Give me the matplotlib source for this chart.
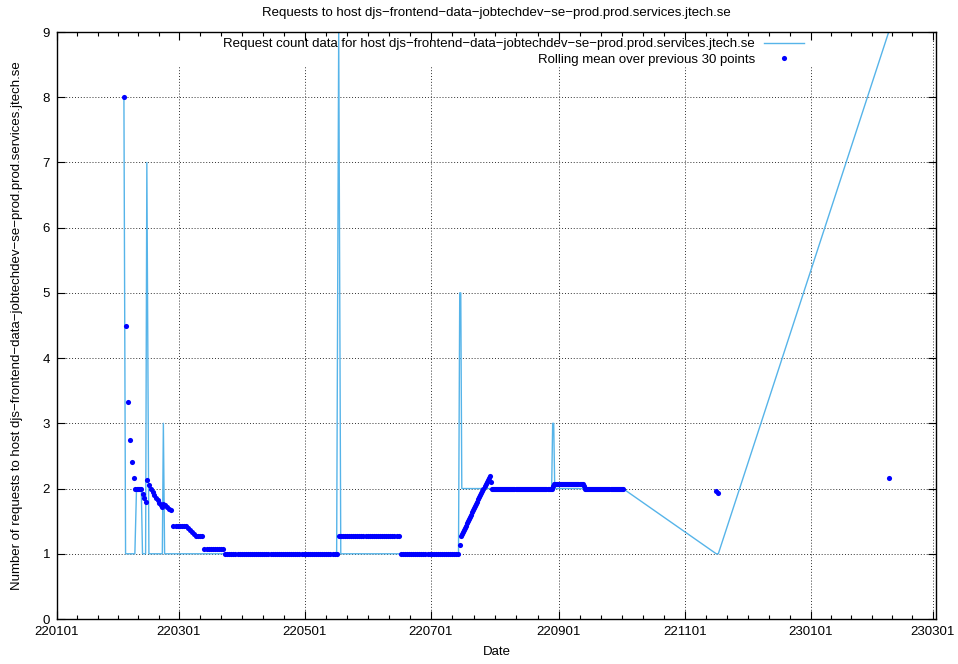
import matplotlib
matplotlib.use('Agg')
import matplotlib.pyplot as plt
import matplotlib.dates as mdates
from matplotlib.patches import Rectangle
import numpy as np
import pandas as pd
from datetime import datetime

plt.rcParams['font.family'] = ['Liberation Sans', 'DejaVu Sans']
plt.rcParams['font.size'] = 9.5

host = 'djs\u2212frontend\u2212data\u2212jobtechdev\u2212se\u2212prod.prod.services.jtech.se'

# sample times in days after 2022-01-01, request counts
early_days = [32.4, 33.2, 34.3, 35.3, 36.3, 37.2, 37.7, 38.5, 39.1, 39.7,
              40.3, 40.8, 41.4, 42.3, 42.9, 43.5, 44.5, 45.4, 46.4, 47.2,
              47.9, 48.7, 49.5, 50.2, 51.0, 51.5, 52.1, 53.2, 54.3, 55.4]
early_counts = [8, 1, 1, 1, 1, 1, 1, 2, 2, 2,
                2, 2, 1, 1, 1, 7, 1, 1, 1, 1,
                1, 1, 1, 1, 1, 3, 1, 1, 1, 1]

# regular stretches: (first day, last day, step in days, count)
run_first = [56.4, 136.4, 137.4, 195.0, 196.0, 240.0, 241.0]
run_last = [135.4, 136.4, 194.4, 195.5, 239.5, 240.5, 274.0]
run_step = [1.0, 1.0, 1.0, 0.5, 0.5, 0.5, 0.5]
run_count = [1, 9, 1, 5, 2, 3, 2]

late_days = [319.2, 320.2, 402.7]
late_counts = [1, 1, 9]

major_dates = ['2022-01-01', '2022-03-01', '2022-05-01', '2022-07-01',
               '2022-09-01', '2022-11-01', '2023-01-01', '2023-03-01']

days = list(early_days)
counts = list(early_counts)
for a, b, s, c in zip(run_first, run_last, run_step, run_count):
    d = np.arange(a, b + s / 2, s)
    days += list(d)
    counts += [c] * len(d)
days += late_days
counts += late_counts

base = mdates.date2num(datetime(2022, 1, 1))
x = base + np.array(days)
counts = pd.Series(counts, dtype=float)
rolling = counts.rolling(30, min_periods=1).mean()

fig = plt.figure(figsize=(9.58, 6.64), dpi=100)
ax = fig.add_axes([57 / 958, 45 / 664, 879 / 958, 587 / 664])

ax.plot(x, counts, color='#56b4e9', lw=1.0, zorder=2,
        label='Request count data for host ' + host)
ax.plot(x, rolling, ls='none', marker='o', ms=3.7, mec='none', color='blue',
        zorder=3, label='Rolling mean over previous 30 points')

ax.set_ylim(0, 9)
ax.set_xlim(base, base + 425.6)
ax.set_yticks(range(10))

majors = mdates.date2num(pd.to_datetime(major_dates).to_pydatetime())
minors = []
for a, b in zip(majors[:-1], majors[1:]):
    minors += list(a + (b - a) * np.arange(1, 6) / 6)
ax.set_xticks(majors)
ax.set_xticks(minors, minor=True)
ax.xaxis.set_major_formatter(mdates.DateFormatter('%y%m%d'))

ax.tick_params(which='both', direction='in', top=True, right=True, width=0.8)
ax.tick_params(which='major', length=5.8, pad=5)
ax.tick_params(which='minor', length=2.9)
for sp in ax.spines.values():
    sp.set_linewidth(1.0)

ax.set_axisbelow(True)
ax.grid(True, which='major', ls=(0, (1, 2)), color='#303030', lw=0.7)

# blank area behind the key, like gnuplot
ax.add_patch(Rectangle((0.002, 0.9404), 0.86, 0.045, transform=ax.transAxes,
                       facecolor='white', edgecolor='none', zorder=1))

ax.legend(loc='upper right', bbox_to_anchor=(804 / 958, 1 - 38 / 664),
          bbox_transform=fig.transFigure, frameon=False, markerfirst=False,
          handlelength=3.0, handletextpad=0.7, borderpad=0, borderaxespad=0,
          labelspacing=0.25, fontsize=9.5)

ax.set_xlabel('Date', labelpad=6)
ax.set_ylabel('Number of requests to host ' + host, labelpad=14)
fig.text(496.5 / 958, 1 - 13 / 664, 'Requests to host ' + host,
         ha='center', va='center', fontsize=9.5)

fig.savefig('out.png', dpi=100)
